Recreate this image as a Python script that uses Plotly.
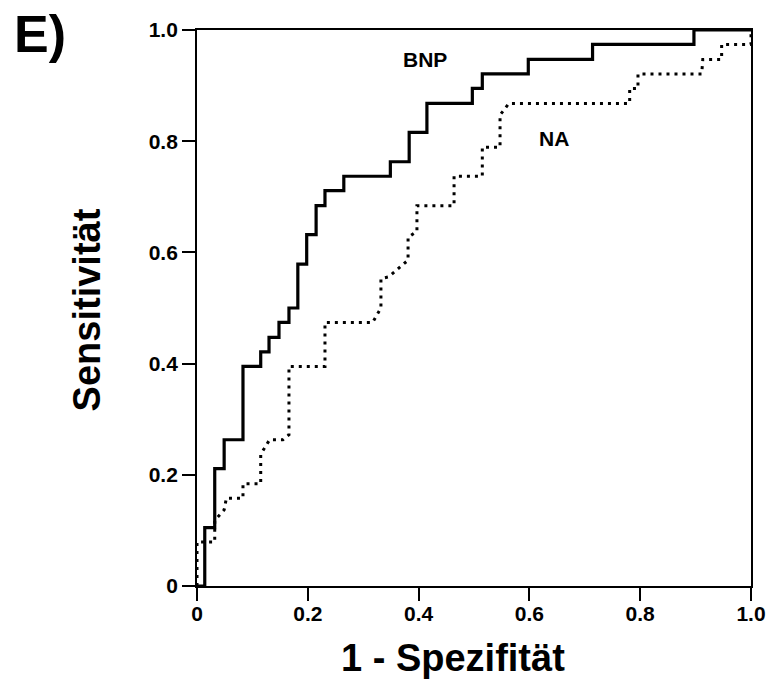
import plotly.graph_objects as go

# ROC curve for BNP: (1 - specificity, sensitivity) step vertices
bnp_fpr = [0, 0.014, 0.032, 0.049, 0.083, 0.115, 0.130, 0.148, 0.166, 0.182, 0.198,
           0.215, 0.231, 0.265, 0.349, 0.383, 0.415, 0.497, 0.515, 0.598, 0.714, 0.897, 1.0]
bnp_sens = [0, 0.105, 0.211, 0.263, 0.395, 0.421, 0.447, 0.474, 0.500, 0.579, 0.632,
            0.684, 0.711, 0.737, 0.763, 0.816, 0.868, 0.895, 0.921, 0.947, 0.974, 1.0, 1.0]

# ROC curve for NA (polyline vertices)
na_fpr = [0, 0, 0.032, 0.032, 0.049, 0.053, 0.083, 0.083, 0.115, 0.115,
          0.131, 0.155, 0.166, 0.166, 0.231, 0.231, 0.317, 0.332, 0.332, 0.346,
          0.381, 0.381, 0.397, 0.397, 0.464, 0.464, 0.515, 0.515, 0.547, 0.547,
          0.563, 0.781, 0.781, 0.796, 0.796, 0.911, 0.913, 0.947, 0.947, 1.0, 1.0]
na_sens = [0, 0.079, 0.079, 0.118, 0.137, 0.158, 0.158, 0.184, 0.184, 0.237,
           0.263, 0.263, 0.272, 0.395, 0.395, 0.474, 0.474, 0.500, 0.553, 0.556,
           0.586, 0.627, 0.638, 0.684, 0.684, 0.737, 0.737, 0.789, 0.789, 0.847,
           0.868, 0.868, 0.895, 0.895, 0.921, 0.921, 0.947, 0.947, 0.974, 0.974, 1.0]

tick_vals = [0, 0.2, 0.4, 0.6, 0.8, 1.0]
tick_text = ["0", "0.2", "0.4", "0.6", "0.8", "1.0"]

FONT = "Liberation Sans, Arial, Helvetica, sans-serif"

fig = go.Figure()
fig.add_trace(go.Scatter(x=na_fpr, y=na_sens, mode="lines", name="NA",
                         line=dict(color="black", width=3, dash="3px,5px"),
                         cliponaxis=False))
fig.add_trace(go.Scatter(x=bnp_fpr, y=bnp_sens, mode="lines", name="BNP",
                         line=dict(color="black", width=3.2, shape="hv"),
                         cliponaxis=False))

axis_common = dict(
    range=[0, 1], tickvals=tick_vals, ticktext=tick_text,
    ticks="outside", ticklen=13, tickwidth=1.6, tickcolor="black",
    showline=True, linecolor="black", linewidth=1.8, mirror=True,
    showgrid=False, zeroline=False,
    tickfont=dict(family=FONT, size=21, color="black", weight="bold"),
)
fig.update_xaxes(ticklabelstandoff=-5, **axis_common)
fig.update_yaxes(**axis_common)

label_font = dict(family=FONT, color="black", weight="bold")
fig.add_annotation(text="BNP", x=0.411, y=0.947, xref="x", yref="y",
                   showarrow=False, font=dict(size=21, **label_font))
fig.add_annotation(text="NA", x=0.644, y=0.804, xref="x", yref="y",
                   showarrow=False, font=dict(size=21, **label_font))
fig.add_annotation(text="1 - Spezifität", x=456, y=658,
                   showarrow=False, font=dict(size=38, **label_font))
fig.add_annotation(text="Sensitivität", x=86, y=310, textangle=-90,
                   showarrow=False, font=dict(size=38, **label_font))
fig.add_annotation(text="E)", x=38, y=34, showarrow=False,
                   font=dict(size=52, **label_font))

# convert the pixel-placed annotations to paper coordinates
W, H = 778, 684
L, R, T, B = 197, 20, 30, 98
pw, ph = W - L - R, H - T - B
for ann in fig.layout.annotations[2:]:
    px, py = ann.x, ann.y
    ann.update(xref="paper", yref="paper", xanchor="center", yanchor="middle",
               x=(px - L) / pw, y=(H - B - py) / ph)

fig.update_layout(
    width=W, height=H,
    margin=dict(l=L, r=R, t=T, b=B),
    plot_bgcolor="white", paper_bgcolor="white",
    showlegend=False,
)

fig.write_html("out.html")
